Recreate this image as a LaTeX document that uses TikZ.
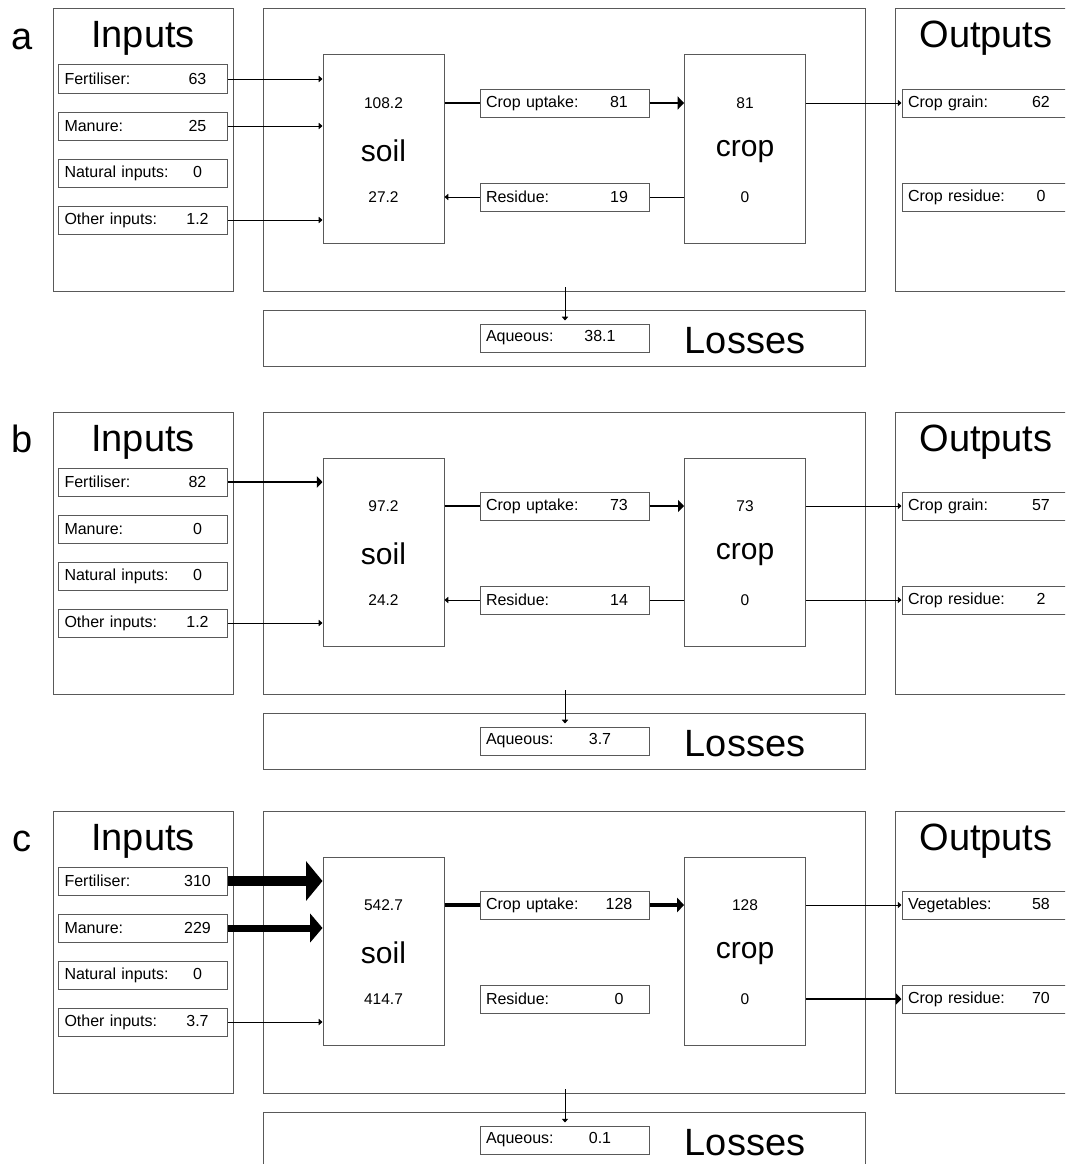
\documentclass[tikz,border=0pt]{standalone}
\usepackage{fontspec}
\setmainfont{Liberation Sans}
\usetikzlibrary{arrows.meta}

% text of a row box: label on the left, value centred on the right
\newcommand{\entry}[3][48pt]{#2\hfill\makebox[#1]{#3}}

\tikzset{
    frame/.style={draw=black!65, line width=1pt},
    rowbox/.style={draw=black!65, line width=1pt, fill=white, minimum width=169pt,
        minimum height=28pt, text width=157pt, inner xsep=6pt, inner ysep=0pt,
        font=\fontsize{16}{19}\selectfont},
    pool/.style={draw=black!65, line width=1pt, minimum width=121pt, minimum height=188pt},
    num/.style={font=\fontsize{15.5}{18}\selectfont},
    poolname/.style={anchor=base, font=\fontsize{30}{36}\selectfont},
    title/.style={anchor=base, font=\fontsize{38}{44}\selectfont},
    tag/.style={anchor=base, font=\fontsize{38}{44}\selectfont},
    flow/.style={line width=#1pt, -{Triangle[length=2.5pt 1.4, width=3pt 3.6]}},
    link/.style={line width=#1pt}
}

% the boxes that every panel has
\newcommand{\flowframe}[1]{%
    \node[tag] (tag) at (22,49) {#1};
    \draw[frame] (53,9) rectangle (233,291);
    \draw[frame] (263,9) rectangle (865,291);
    \draw[frame] (895,9) rectangle (1075,291);
    \draw[frame] (263,310) rectangle (865,366);
    \node[title] (intitle) at (143,48) {Inputs};
    \node[title] (outtitle) at (986,48) {Outputs};
    \node[title] (losstitle) at (745,353) {Losses};
    \node[pool] (soil) at (383.5,149) {};
    \node[pool] (crop) at (745,149) {};
    \node[poolname] (soilname) at (383.5,161) {soil};
    \node[poolname] (cropname) at (745,156) {crop};
    \coordinate (drain) at (565,287);
}

\begin{document}
\begin{tikzpicture}[x=1pt, y=-1pt]
    \useasboundingbox (0,0) rectangle (1065,1164);
    \clip (0,0) rectangle (1065,1164);

    % Panel a
    \begin{scope}[name prefix=a-]
        \flowframe{a}
        % inputs
        \node[rowbox] (fert) at (143,79)  {\entry{Fertiliser:}{63}};
        \node[rowbox] (man)  at (143,126) {\entry{Manure:}{25}};
        \node[rowbox] (nat)  at (143,173) {\entry{Natural inputs:}{0}};
        \node[rowbox] (oth)  at (143,220) {\entry{Other inputs:}{1.2}};
        % soil and crop
        \node[rowbox] (upt) at (564.5,103) {\entry{Crop uptake:}{81}};
        \node[rowbox] (res) at (564.5,197) {\entry{Residue:}{19}};
        \node[num] (soiltop) at (383.5,103) {108.2};
        \node[num] (soilbot) at (383.5,197) {27.2};
        \node[num] (croptop) at (745,103) {81};
        \node[num] (cropbot) at (745,197) {0};
        % outputs and losses
        \node[rowbox] (grain) at (986.5,103) {\entry{Crop grain:}{62}};
        \node[rowbox] (cres)  at (986.5,197) {\entry{Crop residue:}{0}};
        \node[rowbox] (aq)    at (564.5,338) {\entry[86pt]{Aqueous:}{38.1}};
        % flows
        \draw[flow=0.9] (fert) -- (fert -| soil.west);
        \draw[flow=0.9] (man) -- (man -| soil.west);
        \draw[flow=0.9] (oth) -- (oth -| soil.west);
        \draw[link=2.8] (soil.east |- upt) -- (upt);
        \draw[flow=2.8] (upt) -- (upt -| crop.west);
        \draw[link=0.9] (crop.west |- res) -- (res);
        \draw[flow=0.9] (res) -- (res -| soil.east);
        \draw[flow=0.9] (crop.east |- grain) -- (grain);
        \draw[flow=0.9, shorten >=3pt] (drain) -- (drain |- aq.north);
    \end{scope}

    % Panel b
    \begin{scope}[shift={(0,403)}, name prefix=b-]
        \flowframe{b}
        % inputs
        \node[rowbox] (fert) at (143,79)  {\entry{Fertiliser:}{82}};
        \node[rowbox] (man)  at (143,126) {\entry{Manure:}{0}};
        \node[rowbox] (nat)  at (143,173) {\entry{Natural inputs:}{0}};
        \node[rowbox] (oth)  at (143,220) {\entry{Other inputs:}{1.2}};
        % soil and crop
        \node[rowbox] (upt) at (564.5,103) {\entry{Crop uptake:}{73}};
        \node[rowbox] (res) at (564.5,197) {\entry{Residue:}{14}};
        \node[num] (soiltop) at (383.5,103) {97.2};
        \node[num] (soilbot) at (383.5,197) {24.2};
        \node[num] (croptop) at (745,103) {73};
        \node[num] (cropbot) at (745,197) {0};
        % outputs and losses
        \node[rowbox] (grain) at (986.5,103) {\entry{Crop grain:}{57}};
        \node[rowbox] (cres)  at (986.5,197) {\entry{Crop residue:}{2}};
        \node[rowbox] (aq)    at (564.5,338) {\entry[86pt]{Aqueous:}{3.7}};
        % flows
        \draw[flow=2.3] (fert) -- (fert -| soil.west);
        \draw[flow=0.9] (oth) -- (oth -| soil.west);
        \draw[link=2.5] (soil.east |- upt) -- (upt);
        \draw[flow=2.5] (upt) -- (upt -| crop.west);
        \draw[link=0.9] (crop.west |- res) -- (res);
        \draw[flow=0.9] (res) -- (res -| soil.east);
        \draw[flow=0.9] (crop.east |- grain) -- (grain);
        \draw[flow=0.9] (crop.east |- cres) -- (cres);
        \draw[flow=0.9, shorten >=3pt] (drain) -- (drain |- aq.north);
    \end{scope}

    % Panel c
    \begin{scope}[shift={(0,802)}, name prefix=c-]
        \flowframe{c}
        % inputs
        \node[rowbox] (fert) at (143,79)  {\entry{Fertiliser:}{310}};
        \node[rowbox] (man)  at (143,126) {\entry{Manure:}{229}};
        \node[rowbox] (nat)  at (143,173) {\entry{Natural inputs:}{0}};
        \node[rowbox] (oth)  at (143,220) {\entry{Other inputs:}{3.7}};
        % soil and crop
        \node[rowbox] (upt) at (564.5,103) {\entry{Crop uptake:}{128}};
        \node[rowbox] (res) at (564.5,197) {\entry{Residue:}{0}};
        \node[num] (soiltop) at (383.5,103) {542.7};
        \node[num] (soilbot) at (383.5,197) {414.7};
        \node[num] (croptop) at (745,103) {128};
        \node[num] (cropbot) at (745,197) {0};
        % outputs and losses
        \node[rowbox] (veg)  at (986.5,103) {\entry{Vegetables:}{58}};
        \node[rowbox] (cres) at (986.5,197) {\entry{Crop residue:}{70}};
        \node[rowbox] (aq)   at (564.5,338) {\entry[86pt]{Aqueous:}{0.1}};
        % flows
        \draw[flow=10] (fert) -- (fert -| soil.west);
        \draw[flow=7] (man) -- (man -| soil.west);
        \draw[flow=0.9] (oth) -- (oth -| soil.west);
        \draw[link=3.2] (soil.east |- upt) -- (upt);
        \draw[flow=3.2] (upt) -- (upt -| crop.west);
        \draw[flow=0.9] (crop.east |- veg) -- (veg);
        \draw[flow=2.2] (crop.east |- cres) -- (cres);
        \draw[flow=0.9, shorten >=3pt] (drain) -- (drain |- aq.north);
    \end{scope}
\end{tikzpicture}
\end{document}
